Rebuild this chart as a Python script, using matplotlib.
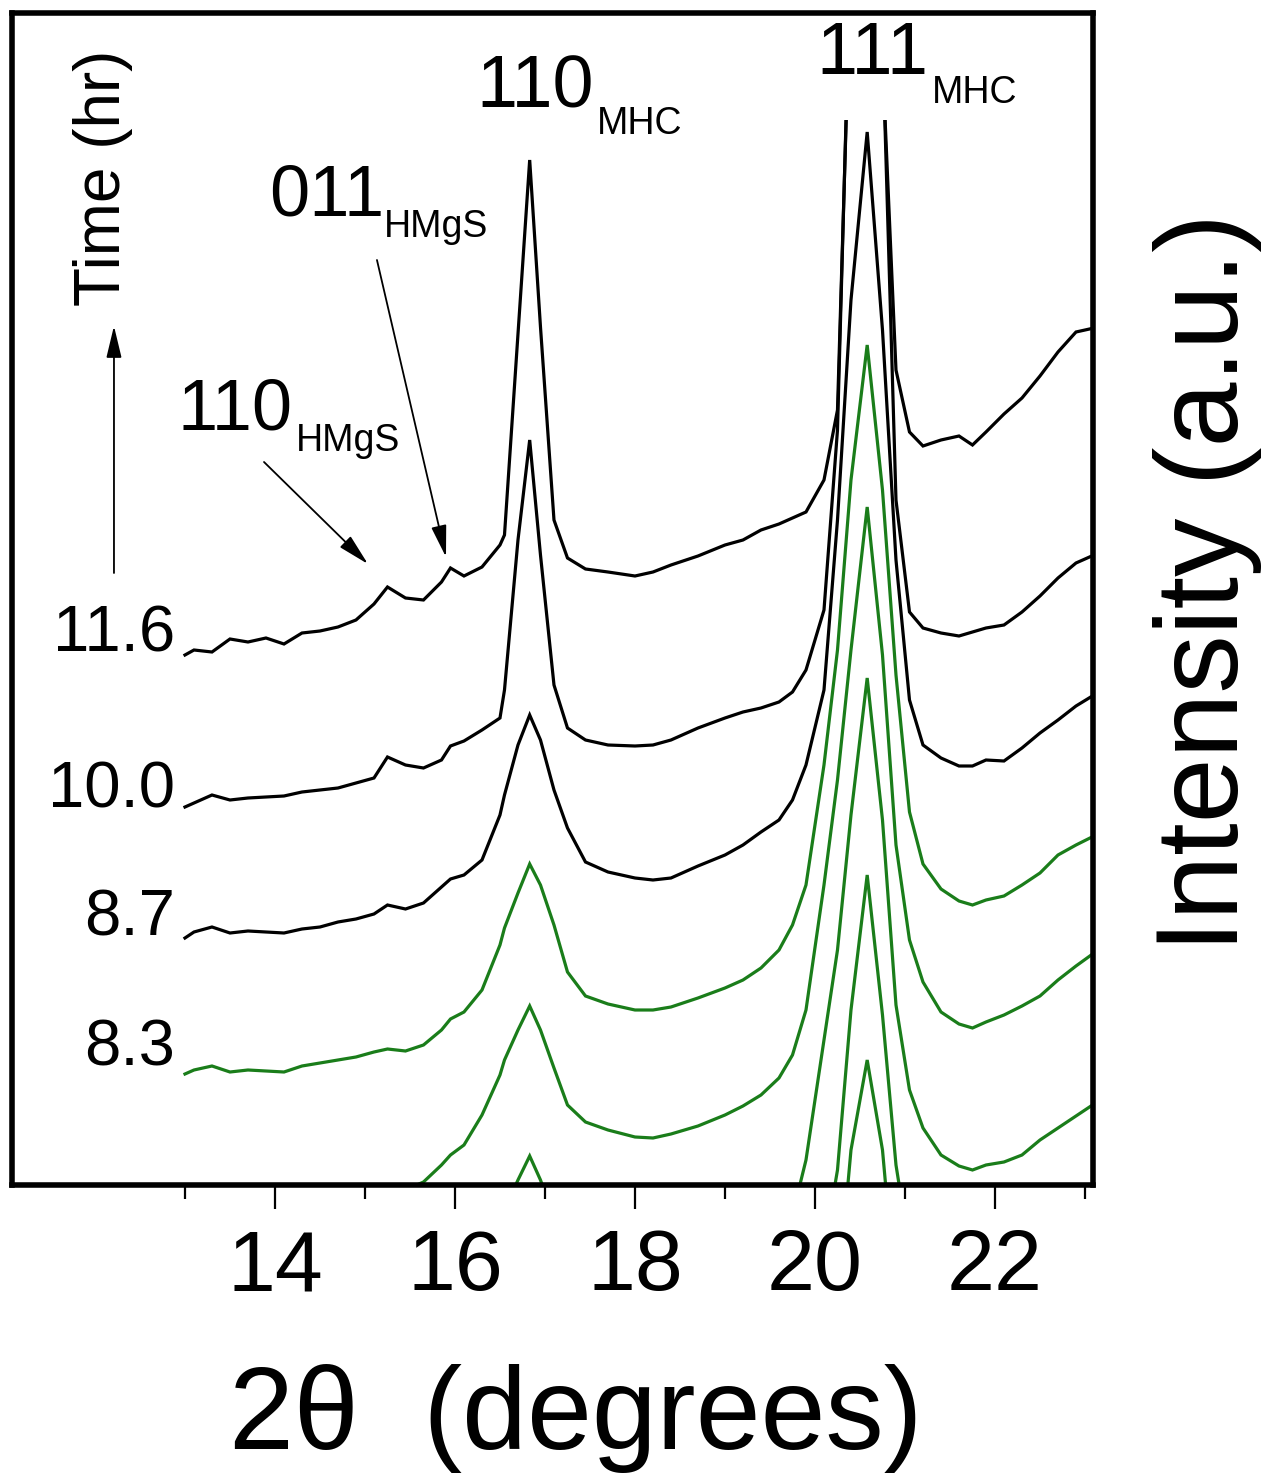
import numpy as np
import matplotlib
matplotlib.use("Agg")
import matplotlib.pyplot as plt
from matplotlib.patches import Rectangle

plt.rcParams['font.family'] = ['Liberation Sans', 'DejaVu Sans']

# ---------------- data (2theta in degrees, intensity in a.u., offset-stacked) -------------
two_theta = [13.0, 13.1, 13.3, 13.5, 13.7, 13.9, 14.1, 14.3, 14.5, 14.7, 14.9,
             15.1, 15.25, 15.45, 15.65, 15.85, 15.95, 16.1, 16.3, 16.5, 16.55,
             16.7, 16.83, 16.95, 17.1, 17.25, 17.45, 17.7, 18.0, 18.2, 18.4,
             18.7, 19.0, 19.2, 19.4, 19.6, 19.75, 19.9, 20.1, 20.25, 20.4,
             20.58, 20.75, 20.9, 21.05, 21.2, 21.4, 21.6, 21.75, 21.9, 22.1,
             22.3, 22.5, 22.7, 22.9, 23.1]

I_11_6 = [533, 538, 536, 549, 546, 550, 544, 555, 557, 561, 568,
          584, 601, 590, 588, 606, 620, 612, 621, 643, 653,
          854, 1028, 861, 668, 630, 619, 616, 612, 616, 623,
          632, 643, 648, 658, 664, 670, 676, 708, 778, 1228,
          2088, 1128, 818, 756, 742, 748, 752, 743, 756, 774,
          790, 812, 836, 856, 860]
I_10_0 = [381, 385, 393, 388, 390, 391, 392, 396, 398, 400, 405,
          410, 431, 423, 420, 428, 442, 447, 458, 470, 498,
          648, 748, 633, 503, 460, 448, 443, 442, 443, 448,
          460, 470, 476, 480, 486, 496, 518, 578, 758, 1248,
          1988, 1148, 688, 576, 560, 555, 552, 556, 560, 563,
          576, 592, 610, 625, 633]
I_8_7 = [250, 256, 261, 255, 257, 256, 255, 259, 261, 266, 269,
         274, 283, 279, 285, 301, 309, 313, 328, 373, 393,
         443, 473, 448, 398, 360, 326, 316, 310, 308, 310,
         322, 333, 343, 356, 368, 388, 423, 498, 668, 888,
         1056, 858, 628, 488, 443, 430, 422, 422, 428, 427,
         440, 455, 468, 482, 493]
I_8_3 = [114, 118, 122, 116, 118, 117, 116, 122, 125, 128, 131,
         136, 139, 137, 143, 158, 169, 176, 198, 243, 260,
         295, 324, 303, 263, 216, 192, 184, 178, 178, 181,
         190, 200, 208, 220, 238, 263, 303, 423, 538, 708,
         843, 698, 513, 376, 324, 299, 287, 283, 288, 292,
         303, 315, 333, 343, 352]
I_g2 = [-26, -22, -18, -24, -22, -23, -24, -18, -15, -12, -9,
        -5, -2, -2, 6, 23, 33, 43, 73, 113, 128,
        158, 182, 158, 120, 83, 66, 58, 51, 50, 54,
        62, 73, 82, 93, 110, 133, 178, 303, 408, 538,
        681, 533, 343, 248, 206, 176, 164, 160, 166, 173,
        182, 192, 208, 222, 235]
I_g3 = [-176, -172, -168, -174, -172, -173, -174, -168, -165, -162, -159,
        -155, -152, -152, -144, -127, -117, -107, -77, -37, -22,
        8, 32, 8, -30, -67, -84, -92, -99, -100, -96,
        -88, -77, -68, -57, -40, -27, 28, 148, 238, 373,
        510, 368, 183, 98, 60, 33, 22, 18, 23, 26,
        33, 48, 60, 72, 84]
I_g4 = [-346, -342, -338, -344, -342, -343, -344, -338, -335, -332, -329,
        -325, -322, -322, -314, -297, -287, -277, -247, -207, -192,
        -162, -138, -162, -200, -237, -254, -262, -269, -270, -266,
        -258, -247, -238, -227, -210, -187, -142, -62, 18, 178,
        313, 173, 23, -62, -112, -137, -148, -152, -147, -144,
        -137, -125, -112, -99, -86]
I_g5 = [-526, -522, -518, -524, -522, -523, -524, -518, -515, -512, -509,
        -505, -502, -502, -494, -477, -467, -457, -427, -387, -372,
        -342, -318, -342, -380, -417, -434, -442, -449, -450, -446,
        -438, -427, -418, -407, -390, -367, -312, -232, -112, 38,
        128, 38, -112, -232, -292, -317, -328, -332, -327, -324,
        -317, -305, -292, -279, -266]

series = [I_11_6, I_10_0, I_8_7, I_8_3, I_g2, I_g3, I_g4, I_g5]
colors = ['black', 'black', 'black', '#1a7d1a', '#1a7d1a', '#1a7d1a', '#1a7d1a', '#1a7d1a']

time_labels = ['11.6', '10.0', '8.7', '8.3']
time_label_y = [536, 380, 252, 123]

x_ticks = [14, 16, 18, 20, 22]
x_minor = [13, 15, 17, 19, 21, 23]

# ---------------- figure ----------------
W, H = 1270, 1478
fig = plt.figure(figsize=(W / 100, H / 100), dpi=100)
ax = fig.add_axes([12 / W, 1 - 1185 / H, (1093 - 12) / W, (1185 - 13) / H])
XMIN, XMAX, YMIN, YMAX = 11.078, 23.089, 3, 1175
ax.set_xlim(XMIN, XMAX)
ax.set_ylim(YMIN, YMAX)

# curves are cut off a little below the top frame (peak tops go off-scale)
clip = Rectangle((XMIN, YMIN), XMAX - XMIN, 1068 - YMIN, transform=ax.transData,
                 facecolor='none', edgecolor='none')
for y, c in zip(series, colors):
    ln, = ax.plot(two_theta, y, color=c, lw=2.3, solid_joinstyle='miter')
    ln.set_clip_path(clip)

for s in ax.spines.values():
    s.set_linewidth(4)

ax.set_yticks([])
ax.set_xticks(x_ticks)
ax.set_xticks(x_minor, minor=True)
ax.set_xticklabels([str(t) for t in x_ticks])
ax.tick_params(axis='x', which='major', direction='out', length=17, width=1.6,
               labelsize=62, pad=14, top=False)
ax.tick_params(axis='x', which='minor', direction='out', length=10, width=1.6, top=False)

# sample time labels
for lab, yy in zip(time_labels, time_label_y):
    ax.text(12.889, yy, lab, ha='right', va='baseline', fontsize=47)

# reflection labels
peak_labels = [('110', 16.233, 1081, 53), ('MHC', 17.578, 1054, 27),
               ('111', 20.011, 1114, 53), ('MHC', 21.30, 1085, 27),
               ('011', 13.933, 972, 52), ('HMgS', 15.211, 951, 27),
               ('110', 12.922, 758, 52), ('HMgS', 14.233, 737, 27)]
for txt, xx, yy, fs in peak_labels:
    ax.text(xx, yy, txt, ha='left', va='baseline', fontsize=fs)

arrow_kw = dict(arrowstyle='-|>,head_length=0.75,head_width=0.18', mutation_scale=26,
                lw=1.3, color='black', shrinkA=0, shrinkB=0)
ax.annotate('', xy=(15.033, 624), xytext=(13.878, 726), arrowprops=arrow_kw)
ax.annotate('', xy=(15.90, 631), xytext=(15.133, 928), arrowprops=arrow_kw)
ax.annotate('', xy=(12.211, 862), xytext=(12.211, 615), arrowprops=arrow_kw)
ax.text(12.089, 1010, 'Time (hr)', rotation=90, ha='center', va='center', fontsize=46)

fig.text(229 / W, 1 - 1449 / H, '2\u03b8  (degrees)', ha='left', va='baseline', fontsize=84)
fig.text(1208 / W, 1 - 583 / H, 'Intensity (a.u.)', rotation=90, ha='center',
         va='center', fontsize=84)

fig.savefig('out.png', dpi=100)
